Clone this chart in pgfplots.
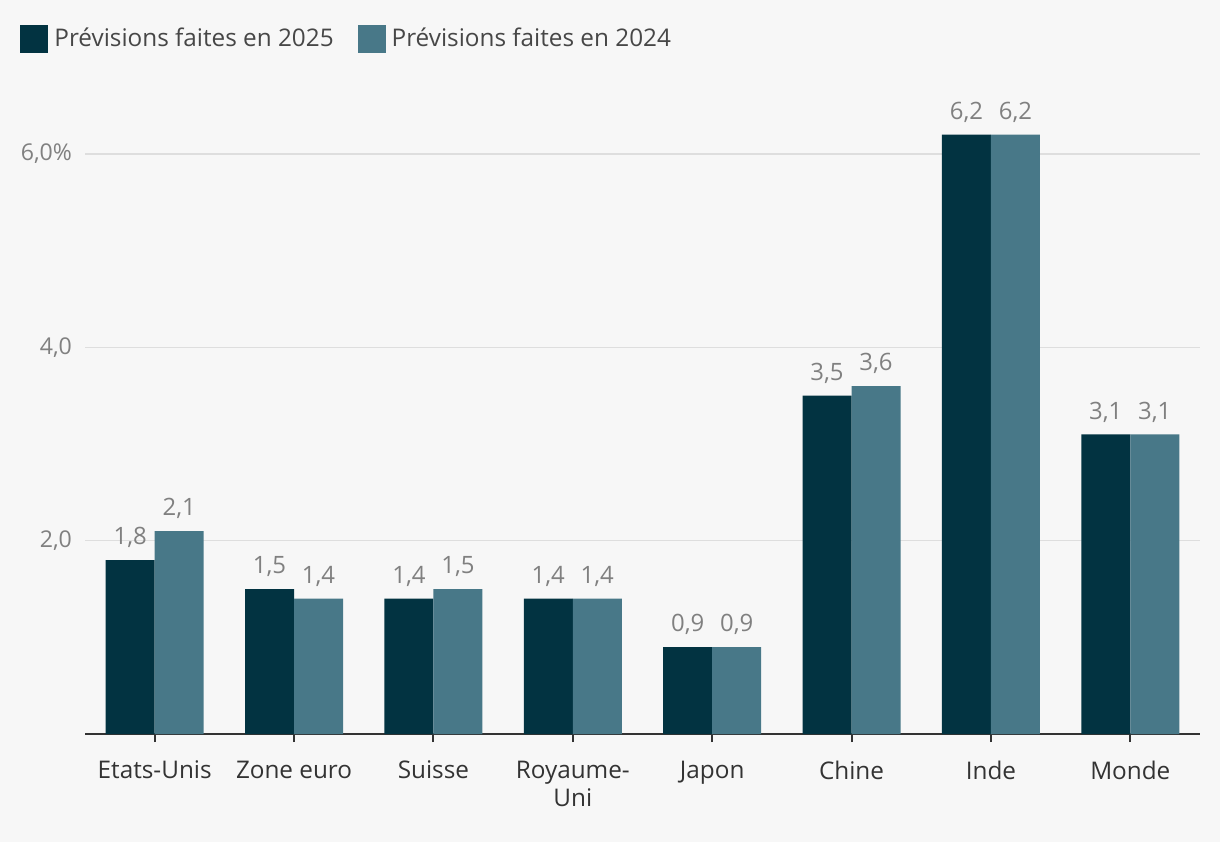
\documentclass[border=0pt]{standalone}
\usepackage{pgfplots}
\pgfplotsset{compat=1.18}
\usepackage{fontspec}
\setmainfont{Open Sans}
\definecolor{bg}{HTML}{F7F7F7}
\definecolor{dark}{HTML}{023341}
\definecolor{light}{HTML}{487888}
\definecolor{gridc}{HTML}{DEDEDE}
\definecolor{valc}{HTML}{808080}
\definecolor{axc}{HTML}{333333}
\begin{document}
\begin{tikzpicture}
\fill[bg] (-42.5bp,-54bp) rectangle ++(610bp,421bp);
\begin{axis}[
  at={(0,0)}, anchor=south west,
  scale only axis, width=557.5bp, height=319bp,
  xmin=-0.5, xmax=7.5, ymin=0, ymax=6.6,
  ybar=0pt, bar width=24.5bp,
  axis x line*=bottom, axis y line*=left,
  x axis line style={-, draw=axc, line width=1bp},
  y axis line style={draw=none},
  xtick={0,...,7},
  xticklabels={Etats-Unis,Zone euro,Suisse,{Royaume-\\Uni},Japon,Chine,Inde,Monde},
  xticklabel style={align=center, text=axc, yshift=-6bp, font=\fontsize{12.2}{14}\selectfont},
  xtick style={draw=axc, line width=1bp},
  tick align=outside, major tick length=4bp,
  ytick={2,4,6}, yticklabels={{2,0},{4,0},{6,0\%}},
  yticklabel style={text=valc, xshift=1bp, font=\fontsize{11.6}{12}\selectfont},
  ytick style={draw=none},
  ymajorgrids, grid style={draw=gridc, line width=0.6bp},
  /pgf/number format/assume math mode=true,
  nodes near coords={\pgfmathprintnumber[fixed,fixed zerofill,precision=1,use comma]{\pgfplotspointmeta}},
  every node near coord/.append style={text=valc, yshift=2.5bp, font=\fontsize{12}{12}\selectfont},
  legend columns=2,
  legend style={at={(-0.0583,1.1129)}, anchor=north west, draw=none, fill=none,
    inner sep=0pt, font=\fontsize{12.2}{13}\selectfont, text=axc!90,
    /tikz/every even column/.append style={column sep=10bp}},
  legend image code/.code={\fill[#1] (0bp,-7bp) rectangle (14bp,7bp);},
]
\addplot[fill=dark, draw=none] coordinates {(0,1.8) (1,1.5) (2,1.4) (3,1.4) (4,0.9) (5,3.5) (6,6.2) (7,3.1)};
\addplot[fill=light, draw=none] coordinates {(0,2.1) (1,1.4) (2,1.5) (3,1.4) (4,0.9) (5,3.6) (6,6.2) (7,3.1)};
\legend{\hspace{1bp}Prévisions faites en 2025, \hspace{1bp}Prévisions faites en 2024}
\end{axis}
\pgfresetboundingbox
\useasboundingbox (-42.5bp,-54bp) rectangle ++(610bp,421bp);
\end{tikzpicture}
\end{document}
